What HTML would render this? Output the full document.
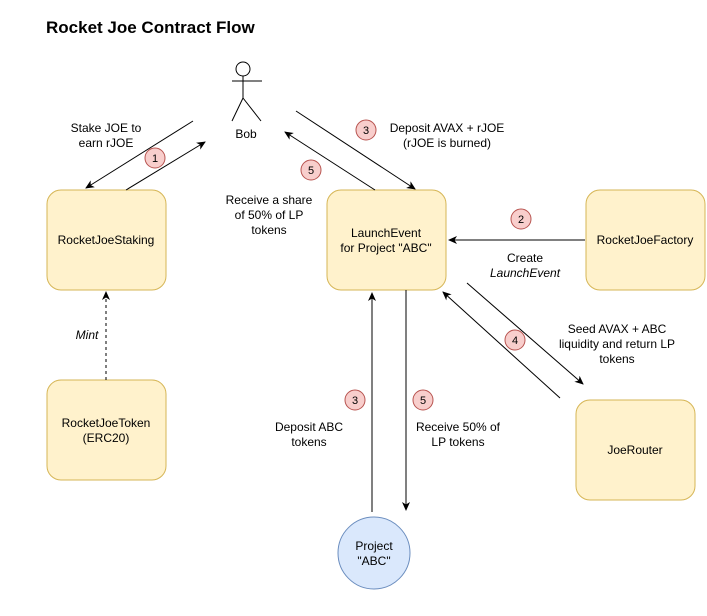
<!DOCTYPE html>
<html><head><style>body{margin:0;background:#fff}</style></head><body>
<svg width="707" height="611" xmlns="http://www.w3.org/2000/svg" font-family="Liberation Sans, Arial, sans-serif">
<defs><marker id="a" markerWidth="10" markerHeight="10" refX="8" refY="4" orient="auto" markerUnits="userSpaceOnUse"><path d="M0,0 L9,4 L0,8 L2.5,4 Z" fill="#000"/></marker></defs>
<rect width="707" height="611" fill="#fff"/>
<text x="46" y="33" font-size="17" font-weight="bold">Rocket Joe Contract Flow</text>
<g fill="#fff2cc" stroke="#d6b656" stroke-width="1">
<rect x="47" y="190" width="119" height="100" rx="14"/>
<rect x="327" y="190" width="119" height="100" rx="14"/>
<rect x="586" y="190" width="119" height="100" rx="14"/>
<rect x="47" y="380" width="119" height="100" rx="14"/>
<rect x="576" y="400" width="119" height="100" rx="14"/>
</g>
<circle cx="374" cy="553" r="36" fill="#dae8fc" stroke="#6c8ebf"/>
<g font-size="12" text-anchor="middle" fill="#000">
<text x="106" y="244">RocketJoeStaking</text>
<text x="386" y="237">LaunchEvent</text><text x="386" y="252">for Project "ABC"</text>
<text x="645" y="244">RocketJoeFactory</text>
<text x="106" y="427">RocketJoeToken</text><text x="106" y="442">(ERC20)</text>
<text x="635" y="454">JoeRouter</text>
<text x="374" y="550">Project</text><text x="374" y="565">"ABC"</text>
<text x="246" y="138">Bob</text>
<text x="106" y="132">Stake JOE to</text><text x="106" y="147">earn rJOE</text>
<text x="447" y="132">Deposit AVAX + rJOE</text><text x="447" y="147">(rJOE is burned)</text>
<text x="269" y="204">Receive a share</text><text x="269" y="219">of 50% of LP</text><text x="269" y="234">tokens</text>
<text x="525" y="262">Create</text><text x="525" y="277" font-style="italic">LaunchEvent</text>
<text x="87" y="339" font-style="italic">Mint</text>
<text x="617" y="333">Seed AVAX + ABC</text><text x="617" y="348">liquidity and return LP</text><text x="617" y="363">tokens</text>
<text x="309" y="431">Deposit ABC</text><text x="309" y="446">tokens</text>
<text x="458" y="431">Receive 50% of</text><text x="458" y="446">LP tokens</text>
</g>
<g stroke="#000" fill="none" stroke-width="1">
<circle cx="243" cy="69" r="7"/>
<path d="M243,76 V98 M232,81 H262 M243,98 L232,121 M243,98 L261,121"/>
<g marker-end="url(#a)">
<path d="M193,121 L86,188"/>
<path d="M126,190 L205,142"/>
<path d="M296,111 L415,189"/>
<path d="M375,190 L285,132"/>
<path d="M585,240 L449,240"/>
<path d="M467,283 L583,384"/>
<path d="M560,398 L443,292"/>
<path d="M106,380 L106,292" stroke-dasharray="3,3"/>
<path d="M372,512 L372,293"/>
<path d="M406,290 L406,510"/>
</g>
</g>
<g fill="#f8cecc" stroke="#b85450">
<circle cx="155" cy="158" r="10"/><circle cx="311" cy="170" r="10"/><circle cx="366" cy="130" r="10"/>
<circle cx="521" cy="219" r="10"/><circle cx="515" cy="340" r="10"/><circle cx="355" cy="400" r="10"/><circle cx="423" cy="400" r="10"/>
</g>
<g font-size="11" text-anchor="middle">
<text x="155" y="162">1</text><text x="311" y="174">5</text><text x="366" y="134">3</text>
<text x="521" y="223">2</text><text x="515" y="344">4</text><text x="355" y="404">3</text><text x="423" y="404">5</text>
</g>
</svg>
</body></html>
